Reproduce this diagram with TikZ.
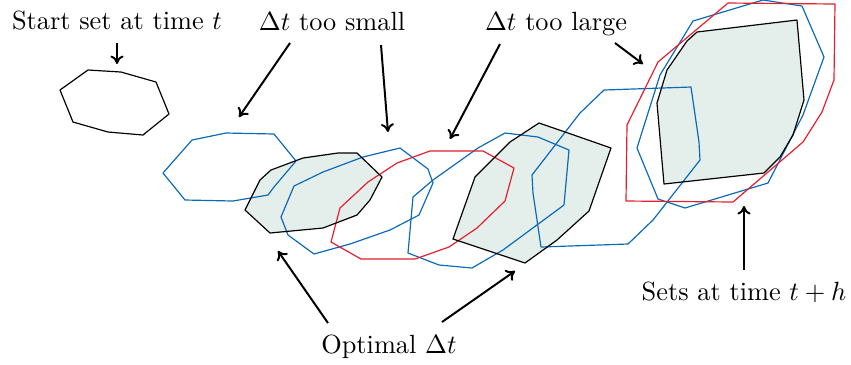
\documentclass[tikz,border=0pt]{standalone}
\usetikzlibrary{arrows.meta}
\definecolor{setblue}{RGB}{10,105,185}
\definecolor{setred}{RGB}{228,30,45}
\definecolor{setfill}{RGB}{228,238,234}
\tikzset{
  blueset/.style={draw=setblue,line width=0.45pt,line join=round},
  redset/.style={draw=setred,line width=0.45pt,line join=round},
  blackset/.style={draw=black,line width=0.45pt,line join=round},
  fillset/.style={fill=setfill},
  pointer/.style={-{To[length=3.2pt,width=5pt]},line width=0.75pt},
  lbl/.style={anchor=base,inner sep=0pt,font=\fontsize{10}{12}\selectfont}
}
\begin{document}
\begin{tikzpicture}[x=0.38pt,y=-0.38pt]
\useasboundingbox (0,0) rectangle (851,364);
% fills
\fill[fillset] (245,210)--(260,180)--(271,170)--(303,158)--(338,153)--(357,153)--(382,177)--(370,200)--(357,215)--(323,228)--(270,233)--cycle;
\fill[fillset] (453,239)--(475,177)--(510,142)--(539,123)--(568,133)--(611,148)--(589,211)--(557,240)--(525,263)--cycle;
\fill[fillset] (657,103)--(667,70)--(687,41)--(697,32)--(797,20)--(804,100)--(793,135)--(780,157)--(764,173)--(664,184)--cycle;
% start set
\draw[blackset] (60,90)--(88,70)--(121,72)--(156,82)--(169,114)--(143,135)--(108,132)--(73,122)--cycle;
% blue sets
\draw[blueset] (163,173)--(192,140)--(226,133)--(274,134)--(296,161)--(274,187)--(268,195)--(233,201)--(185,200)--cycle;
\draw[blueset] (281,217)--(294,186)--(323,172)--(363,157)--(400,148)--(428,169)--(433,183)--(419,215)--(390,230)--(350,244)--(314,254)--(288,235)--cycle;
\draw[blueset] (413,197)--(433,180)--(478,148)--(505,133)--(538,137)--(569,150)--(564,205)--(503,250)--(472,268)--(439,265)--(408,253)--cycle;
\draw[blueset] (532,175)--(580,113)--(604,90)--(691,87)--(699,142)--(700,160)--(653,220)--(628,244)--(541,247)--(533,193)--cycle;
\draw[blueset] (693,21)--(763,0)--(802,6)--(824,57)--(803,115)--(768,183)--(685,208)--(658,199)--(637,148)--(660,75)--cycle;
% red sets
\draw[redset] (331,242)--(340,208)--(368,182)--(397,163)--(430,151)--(483,151)--(514,168)--(505,201)--(477,228)--(449,247)--(415,259)--(361,259)--cycle;
\draw[redset] (626,201)--(627,125)--(658,62)--(728,3)--(835,4)--(834,80)--(822,112)--(803,142)--(733,202)--cycle;
% black outlines
\draw[blackset] (245,210)--(260,180)--(271,170)--(303,158)--(338,153)--(357,153)--(382,177)--(370,200)--(357,215)--(323,228)--(270,233)--cycle;
\draw[blackset] (453,239)--(475,177)--(510,142)--(539,123)--(568,133)--(611,148)--(589,211)--(557,240)--(525,263)--cycle;
\draw[blackset] (657,103)--(667,70)--(687,41)--(697,32)--(797,20)--(804,100)--(793,135)--(780,157)--(764,173)--(664,184)--cycle;
% labels
\node[lbl] (start) at (117,29) {Start set at time $t$};
\node[lbl] (small) at (332,30) {$\Delta t$ too small};
\node[lbl] (large) at (556,30) {$\Delta t$ too large};
\node[lbl] (sets) at (744,300) {Sets at time $t+h$};
\node[lbl] (opt) at (389,353) {Optimal $\Delta t$};
% arrow ends
\coordinate (s0) at (117,43);   \coordinate (s1) at (117,64);
\coordinate (a0) at (290,43);   \coordinate (a1) at (239,117);
\coordinate (b0) at (381,45);   \coordinate (b1) at (388,132);
\coordinate (c0) at (500,44);   \coordinate (c1) at (450,139);
\coordinate (d0) at (615,43);   \coordinate (d1) at (643,64);
\coordinate (e0) at (744,270);  \coordinate (e1) at (744,206);
\coordinate (f0) at (328,323);  \coordinate (f1) at (278,251);
\coordinate (g0) at (442,322);  \coordinate (g1) at (515,271);
\draw[pointer] (s0) -- (s1);
\draw[pointer] (a0) -- (a1);
\draw[pointer] (b0) -- (b1);
\draw[pointer] (c0) -- (c1);
\draw[pointer] (d0) -- (d1);
\draw[pointer] (e0) -- (e1);
\draw[pointer] (f0) -- (f1);
\draw[pointer] (g0) -- (g1);
\end{tikzpicture}
\end{document}
